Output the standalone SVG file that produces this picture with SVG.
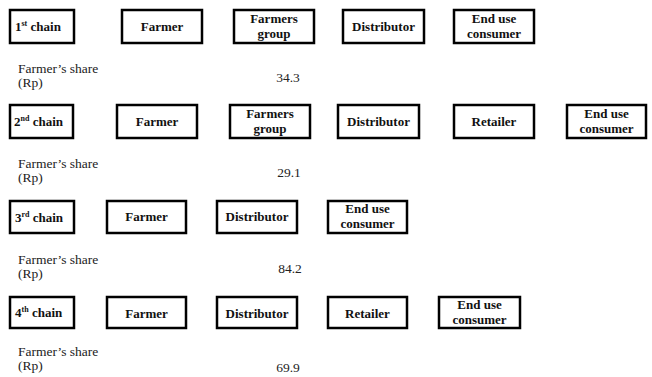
<svg xmlns="http://www.w3.org/2000/svg" width="652" height="377" viewBox="0 0 652 377">
<style>
  text { font-family: 'Liberation Serif', 'Times New Roman', Tinos, 'DejaVu Serif', serif; }
  .box { fill: #ffffff; stroke: #000000; stroke-width: 2.5; }
  .lbl { font-size: 13px; font-weight: bold; fill: #111111; text-anchor: middle; }
  .ch { font-size: 13px; font-weight: bold; fill: #111111; }
  .sup { font-size: 8px; }
  .share { font-size: 13.5px; fill: #222222; }
  .val { font-size: 13.5px; fill: #222222; text-anchor: middle; }
</style>
<rect width="652" height="377" fill="#ffffff"/>
<g id="connectors"></g>

<!-- Row 1 -->
<g id="chain1"><rect class="box" x="10" y="10" width="64" height="33"/><text class="ch" x="15" y="31">1<tspan class="sup" dy="-5">st</tspan><tspan dy="5"> chain</tspan></text></g>
<g id="r1-farmer"><rect class="box" x="122" y="10" width="80" height="33"/><text class="lbl" x="162" y="31">Farmer</text></g>
<g id="r1-group"><rect class="box" x="234" y="10" width="80" height="33"/><text class="lbl" x="274" y="23">Farmers</text><text class="lbl" x="274" y="38">group</text></g>
<g id="r1-distributor"><rect class="box" x="343" y="10" width="81" height="33"/><text class="lbl" x="383.5" y="31">Distributor</text></g>
<g id="r1-consumer"><rect class="box" x="454" y="10" width="80" height="33"/><text class="lbl" x="494" y="23">End use</text><text class="lbl" x="494" y="38">consumer</text></g>
<g id="r1-share"><text class="share" x="18" y="73">Farmer’s share</text><text class="share" x="18" y="87">(Rp)</text><text class="val" x="288" y="82">34.3</text></g>

<!-- Row 2 -->
<g id="chain2"><rect class="box" x="10" y="105" width="63" height="33"/><text class="ch" x="14" y="126">2<tspan class="sup" dy="-5">nd</tspan><tspan dy="5"> chain</tspan></text></g>
<g id="r2-farmer"><rect class="box" x="117" y="105" width="80" height="33"/><text class="lbl" x="157" y="126">Farmer</text></g>
<g id="r2-group"><rect class="box" x="230" y="105" width="80" height="33"/><text class="lbl" x="270" y="118">Farmers</text><text class="lbl" x="270" y="133">group</text></g>
<g id="r2-distributor"><rect class="box" x="338" y="105" width="81" height="33"/><text class="lbl" x="378.5" y="126">Distributor</text></g>
<g id="r2-retailer"><rect class="box" x="454" y="105" width="80" height="33"/><text class="lbl" x="494" y="126">Retailer</text></g>
<g id="r2-consumer"><rect class="box" x="567" y="105" width="79" height="33"/><text class="lbl" x="606.5" y="118">End use</text><text class="lbl" x="606.5" y="133">consumer</text></g>
<g id="r2-share"><text class="share" x="18" y="168">Farmer’s share</text><text class="share" x="18" y="182">(Rp)</text><text class="val" x="289" y="177">29.1</text></g>

<!-- Row 3 -->
<g id="chain3"><rect class="box" x="10" y="201" width="64" height="32"/><text class="ch" x="15" y="222">3<tspan class="sup" dy="-5">rd</tspan><tspan dy="5"> chain</tspan></text></g>
<g id="r3-farmer"><rect class="box" x="107" y="201" width="79" height="32"/><text class="lbl" x="146.5" y="221">Farmer</text></g>
<g id="r3-distributor"><rect class="box" x="217" y="201" width="80" height="32"/><text class="lbl" x="257" y="221">Distributor</text></g>
<g id="r3-consumer"><rect class="box" x="328" y="201" width="79" height="32"/><text class="lbl" x="367.5" y="213">End use</text><text class="lbl" x="367.5" y="228">consumer</text></g>
<g id="r3-share"><text class="share" x="18" y="264">Farmer’s share</text><text class="share" x="18" y="278">(Rp)</text><text class="val" x="290" y="273">84.2</text></g>

<!-- Row 4 -->
<g id="chain4"><rect class="box" x="10" y="297" width="64" height="31"/><text class="ch" x="15" y="317">4<tspan class="sup" dy="-5">th</tspan><tspan dy="5"> chain</tspan></text></g>
<g id="r4-farmer"><rect class="box" x="107" y="297" width="79" height="31"/><text class="lbl" x="146.5" y="318">Farmer</text></g>
<g id="r4-distributor"><rect class="box" x="217" y="297" width="80" height="31"/><text class="lbl" x="257" y="318">Distributor</text></g>
<g id="r4-retailer"><rect class="box" x="328" y="297" width="79" height="31"/><text class="lbl" x="367.5" y="318">Retailer</text></g>
<g id="r4-consumer"><rect class="box" x="439" y="297" width="81" height="31"/><text class="lbl" x="479.5" y="309">End use</text><text class="lbl" x="479.5" y="324">consumer</text></g>
<g id="r4-share"><text class="share" x="18" y="356">Farmer’s share</text><text class="share" x="18" y="370">(Rp)</text><text class="val" x="288" y="372">69.9</text></g>
</svg>
